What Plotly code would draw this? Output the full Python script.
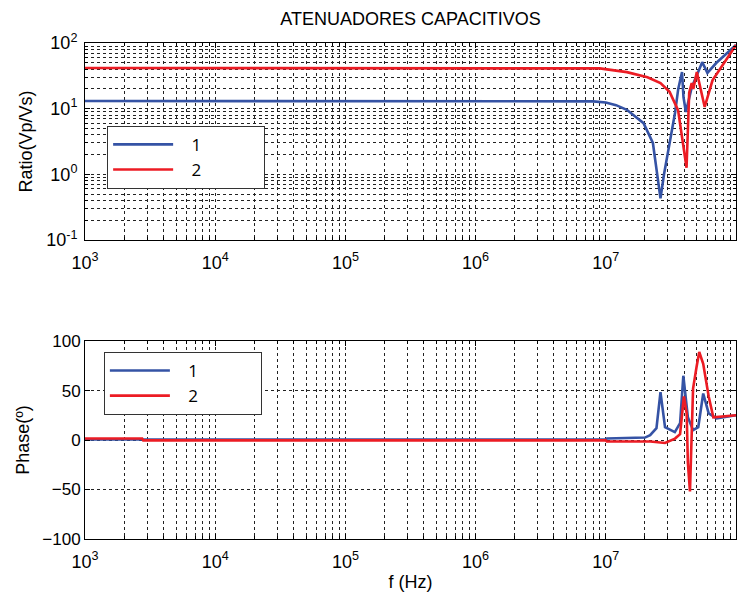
import plotly.graph_objects as go

# ---- data ----
f_mag1 = [1e3, 3e6, 6e6, 8e6, 1.0e7, 1.2e7, 1.45e7, 1.95e7, 2.3e7, 2.5e7, 2.63e7, 2.8e7, 2.95e7,
          3.2e7, 3.4e7, 3.6e7, 3.85e7, 3.95e7, 4.12e7, 4.57e7, 5.5e7, 6.03e7, 7.08e7, 1e8]
mag1 = [13.1, 13.1, 13.05, 12.9, 12.4, 11.3, 9.6, 6.0, 3.0, 1.0, 0.43, 1.0, 1.84,
        4.5, 8.6, 20, 36, 15, 8.9, 21, 51, 35, 50, 93]

f_mag2 = [1e3, 5e6, 9e6, 1.45e7, 2.09e7, 2.63e7, 3.09e7, 3.59e7, 3.89e7, 4.17e7, 4.37e7,
          4.57e7, 4.7e7, 5.0e7, 5.75e7, 6.6e7, 1e8]
mag2 = [41.7, 41.7, 41.0, 36, 30, 24.5, 18, 9.5, 3.3, 1.26, 17.5,
        24.5, 20, 36, 10.6, 27, 93]

f_ph1 = [1e3, 1e7, 1.02e7, 1.5e7, 2.0e7, 2.19e7, 2.45e7, 2.63e7, 2.85e7, 3.39e7, 3.72e7,
         3.94e7, 4.27e7, 4.68e7, 5.13e7, 5.6e7, 6.17e7, 7.1e7, 1e8]
ph1 = [0.5, 0.5, 1.5, 2.5, 2.5, 5, 12, 48.5, 13, 8, 17,
       65, 23, 10, 13, 47, 27, 22, 25]

f_ph2 = [1e3, 2.75e3, 2.8e3, 1e7, 1.02e7, 2.2e7, 2.85e7, 3.4e7, 3.72e7, 3.98e7, 4.18e7,
         4.27e7, 4.43e7, 4.57e7, 4.68e7, 4.98e7, 5.22e7, 5.6e7, 6.17e7, 6.7e7, 1e8]
ph2 = [1.5, 1.5, -0.3, -0.3, -1.5, -1.5, -3, 1.5, 6, 44, 27,
       -23, -52, 0, 52, 74, 89, 77, 44, 23, 25]

series_names = ["1", "2"]
x_tickvals = [1e3, 1e4, 1e5, 1e6, 1e7, 1e8]
x_ticktext = ["10<sup>3</sup>", "10<sup>4</sup>", "10<sup>5</sup>", "10<sup>6</sup>",
              "10<sup>7</sup>", "10<sup>8</sup>"]
y1_tickvals = [0.1, 1, 10, 100]
y1_ticktext = ["10<sup>-1</sup>", "10<sup>0</sup>", "10<sup>1</sup>", "10<sup>2</sup>"]
y2_tickvals = [-100, -50, 0, 50, 100]

BLUE = "#3553a5"
RED = "#ec1c24"
FONT = "Liberation Sans, Arial, sans-serif"
LEGFONT = "Open Sans, sans-serif"
PAD_L = "\u00a0" * 3
PAD_R = "\u00a0" * 13

fig = go.Figure()
fig.add_trace(go.Scatter(x=f_mag1, y=mag1, name=PAD_L + series_names[0] + PAD_R, mode="lines",
                         legendgroup="a", line=dict(color=BLUE, width=2.6),
                         xaxis="x", yaxis="y", legend="legend"))
fig.add_trace(go.Scatter(x=f_mag2, y=mag2, name=PAD_L + series_names[1] + PAD_R, mode="lines",
                         legendgroup="b", line=dict(color=RED, width=2.6),
                         xaxis="x", yaxis="y", legend="legend"))
fig.add_trace(go.Scatter(x=f_ph1, y=ph1, name=PAD_L + series_names[0] + PAD_R, mode="lines",
                         legendgroup="c", line=dict(color=BLUE, width=2.6),
                         xaxis="x2", yaxis="y2", legend="legend2"))
fig.add_trace(go.Scatter(x=f_ph2, y=ph2, name=PAD_L + series_names[1] + PAD_R, mode="lines",
                         legendgroup="d", line=dict(color=RED, width=2.6),
                         xaxis="x2", yaxis="y2", legend="legend2"))

grid = dict(gridcolor="#222222", griddash="3px,3px", gridwidth=1)
minor_grid = dict(showgrid=True, gridcolor="#222222", griddash="3px,3px", gridwidth=1,
                  ticks="inside", ticklen=3, tickcolor="black")
common_x = dict(type="log", range=[3, 8], tickmode="array", tickvals=x_tickvals,
                ticktext=x_ticktext, showline=True, linecolor="black", linewidth=1, mirror="ticks",
                ticks="inside", ticklen=5, tickcolor="black", showgrid=True, **grid,
                minor=dict(dtick="D1", **minor_grid), automargin=False, ticklabelstandoff=6,
                tickfont=dict(family=FONT, size=18, color="black"), zeroline=False)

# page body has an 8px default margin, so the figure is offset by 8px
W, H = 741, 591
layout = dict(
    width=W, height=H,
    margin=dict(l=77, r=13, t=35, b=60),
    paper_bgcolor="white", plot_bgcolor="white",
    font=dict(family=FONT, color="black"),
    title=dict(text="ATENUADORES CAPACITIVOS", x=0.5, xref="paper", xanchor="center",
               y=1 - 11 / H, yref="container", yanchor="middle",
               font=dict(family=FONT, size=18, color="black")),
    xaxis=dict(domain=[0, 1], anchor="y", **common_x),
    xaxis2=dict(domain=[0, 1], anchor="y2", **common_x,
                title=dict(text="f (Hz)", font=dict(family=FONT, size=18), standoff=4)),
    yaxis=dict(domain=[0.603, 1], anchor="x", type="log", range=[-1, 2], tickmode="array",
               tickvals=y1_tickvals, ticktext=y1_ticktext, showline=True, linecolor="black",
               mirror="ticks", ticks="inside", ticklen=5, tickcolor="black", showgrid=True, **grid,
               minor=dict(dtick="D1", **minor_grid), automargin=False, ticklabelstandoff=3,
               tickfont=dict(family=FONT, size=18, color="black"),
               title=dict(text="Ratio(Vp/Vs)", font=dict(family=FONT, size=18), standoff=8)),
    yaxis2=dict(domain=[0, 0.399], anchor="x2", range=[-100, 100], tickmode="array",
                tickvals=y2_tickvals, showline=True, linecolor="black", mirror="ticks",
                ticks="inside", ticklen=5, tickcolor="black", showgrid=True, **grid,
                zeroline=False, automargin=False, tickfont=dict(family=FONT, size=17, color="black"),
                title=dict(text="Phase(º)", font=dict(family=FONT, size=18), standoff=8)),
    legend=dict(x=0.034, y=0.833, xanchor="left", yanchor="top", bgcolor="white",
                bordercolor="#333333", borderwidth=1, font=dict(family=LEGFONT, size=17),
                itemwidth=60, tracegroupgap=0),
    legend2=dict(x=0.029, y=0.377, xanchor="left", yanchor="top", bgcolor="white",
                 bordercolor="#333333", borderwidth=1, font=dict(family=LEGFONT, size=17),
                 itemwidth=60, tracegroupgap=0),
    showlegend=True,
)
fig.update_layout(**layout)
fig.write_html("out.html")
